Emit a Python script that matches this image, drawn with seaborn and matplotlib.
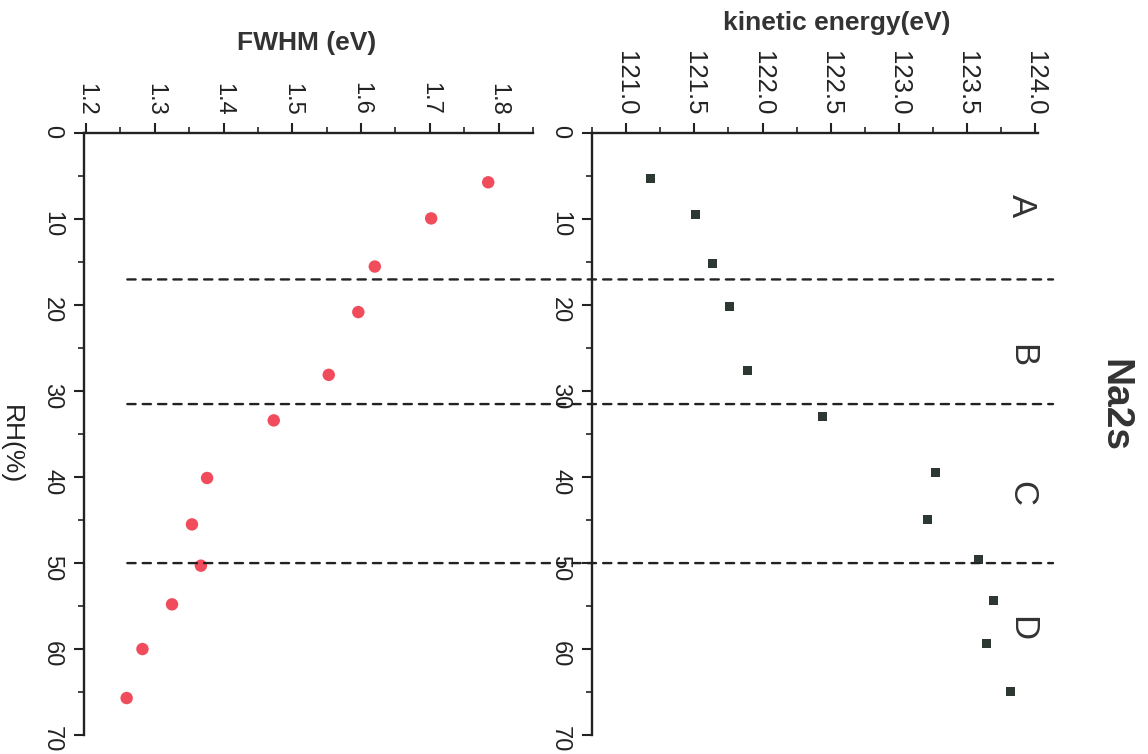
import matplotlib
matplotlib.use("Agg")
import matplotlib.pyplot as plt
import seaborn as sns
import pandas as pd
from matplotlib.patches import ConnectionPatch
from matplotlib.ticker import MultipleLocator, FormatStrFormatter

# ---- data ----
rh_fwhm = [5.7, 9.9, 15.5, 20.8, 28.1, 33.4, 40.1, 45.5, 50.3, 54.8, 60.0, 65.7]
fwhm = [1.785, 1.702, 1.620, 1.596, 1.553, 1.473, 1.376, 1.354, 1.367, 1.325, 1.282, 1.259]
rh_ke = [5.3, 9.4, 15.2, 20.2, 27.6, 32.9, 39.5, 44.9, 49.6, 54.3, 59.3, 64.9]
kinetic = [121.18, 121.51, 121.63, 121.76, 121.89, 122.44, 123.27, 123.21, 123.58, 123.69, 123.64, 123.82]
boundaries = [17.0, 31.5, 50.0]
region_labels = ["A", "B", "C", "D"]
region_rh = [8.4, 25.8, 41.9, 57.6]
title = "Na2s"

sns.set_theme(style="white")
plt.rcParams["font.family"] = ["Liberation Sans", "DejaVu Sans"]
ink = "#222222"

df_f = pd.DataFrame({"RH": rh_fwhm, "FWHM": fwhm})
df_k = pd.DataFrame({"RH": rh_ke, "KE": kinetic})

fig = plt.figure(figsize=(11.48, 7.54), dpi=100)
axL = fig.add_axes([0.0732, 0.0252, 0.391, 0.798])
axR = fig.add_axes([0.5157, 0.0252, 0.3885, 0.798])

sns.scatterplot(data=df_f, x="FWHM", y="RH", ax=axL, color="#f04c5c",
                s=80, marker="o", edgecolor="none")
sns.scatterplot(data=df_k, x="KE", y="RH", ax=axR, color="#2e3833",
                s=42, marker="s", edgecolor="none")

axL.set_xlim(1.197, 1.85)
axR.set_xlim(120.75, 124.02)
axL.xaxis.set_major_locator(MultipleLocator(0.1))
axL.xaxis.set_minor_locator(MultipleLocator(0.05))
axR.xaxis.set_major_locator(MultipleLocator(0.5))
axR.xaxis.set_minor_locator(MultipleLocator(0.25))
axL.xaxis.set_major_formatter(FormatStrFormatter("%.1f"))
axR.xaxis.set_major_formatter(FormatStrFormatter("%.1f"))

for ax in (axL, axR):
    ax.set_ylim(70, 0)
    ax.yaxis.set_major_locator(MultipleLocator(10))
    ax.yaxis.set_minor_locator(MultipleLocator(5))
    ax.xaxis.tick_top()
    ax.xaxis.set_label_position("top")
    for s in ("right", "bottom"):
        ax.spines[s].set_visible(False)
    for s in ("left", "top"):
        ax.spines[s].set_linewidth(1.7)
        ax.spines[s].set_color(ink)
    ax.tick_params(which="major", direction="out", length=7, width=1.5,
                   color=ink, labelcolor=ink, labelsize=17)
    ax.tick_params(which="minor", direction="out", length=4, width=1.2, color=ink)
    ax.tick_params(axis="x", which="both", top=True, bottom=False, labelrotation=-90, pad=6)
    ax.tick_params(axis="y", which="both", left=True, right=False, labelrotation=-90, pad=8)
    ax.set_ylabel("")

axR.tick_params(axis="x", which="major", labelsize=18.5)

axL.set_xlabel("FWHM (eV)", fontsize=19, fontweight="bold", color="#333333",
               va="center", ha="center")
axL.xaxis.set_label_coords(0.497, 1.150)
axR.set_xlabel("kinetic energy(eV)", fontsize=19, fontweight="bold", color="#333333",
               va="center", ha="center")
axR.xaxis.set_label_coords(0.549, 1.184)
axL.set_ylabel("RH(%)", fontsize=19, color=ink, rotation=-90, va="center", ha="center")
axL.yaxis.set_label_coords(-0.162, 0.482)

for b in boundaries:
    con = ConnectionPatch(xyA=(1.26, b), coordsA=axL.transData,
                          xyB=(124.13, b), coordsB=axR.transData,
                          linestyle=(0, (3.5, 3)), linewidth=1.7, color=ink)
    fig.add_artist(con)

for lab, r in zip(region_labels, region_rh):
    axR.text(123.9, r, lab, rotation=-90, fontsize=25, color="#333333",
             ha="center", va="center")

axR.text(1.172, 0.548, title, transform=axR.transAxes, rotation=-90,
         fontsize=28, fontweight="bold", color="#333333", ha="center", va="center")

fig.savefig("out.png", dpi=100)
